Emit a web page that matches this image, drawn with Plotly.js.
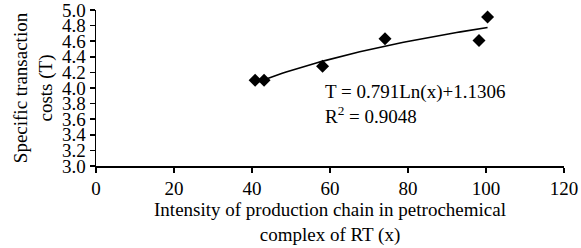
<!DOCTYPE html>
<html>
<head>
<meta charset="utf-8">
<script src="https://cdn.plot.ly/plotly-3.0.1.min.js"></script>
<style>html,body{margin:0;padding:0;background:#fff;}#chart{width:581px;height:248px;}</style>
</head>
<body>
<div id="chart"></div>
<script>
// Data
const intensityX = [40.8, 43.1, 58.1, 74.1, 98.2, 100.4];
const costsT = [4.10, 4.10, 4.28, 4.63, 4.61, 4.91];
// Logarithmic trendline coefficients (from the chart's equation)
const trendA = 0.791;
const trendB = 1.1306;
const xTicks = [0, 20, 40, 60, 80, 100, 120];
const yTicks = [3.0, 3.2, 3.4, 3.6, 3.8, 4.0, 4.2, 4.4, 4.6, 4.8, 5.0];

const xMin = Math.min(...intensityX), xMax = Math.max(...intensityX);
const trendX = [], trendY = [];
for (let i = 0; i <= 60; i++) {
  const x = xMin + (xMax - xMin) * i / 60;
  trendX.push(x);
  trendY.push(trendA * Math.log(x) + trendB);
}

const font = {family: '"Liberation Serif", "Times New Roman", serif', color: '#000', size: 19};

Plotly.newPlot('chart', [
  {x: trendX, y: trendY, mode: 'lines', line: {color: '#000', width: 1.6}, hoverinfo: 'skip'},
  {x: intensityX, y: costsT, mode: 'markers', marker: {symbol: 'diamond', size: 10, color: '#000'}}
], {
  width: 581, height: 248,
  margin: {l: 96, r: 17, t: 10, b: 82},
  showlegend: false,
  paper_bgcolor: '#fff', plot_bgcolor: '#fff',
  font: font,
  xaxis: {
    range: [0, 120], tickvals: xTicks, ticktext: xTicks.map(String),
    showgrid: false, zeroline: false, showline: true, linecolor: '#000', linewidth: 1.5,
    ticks: 'outside', ticklen: 5, tickwidth: 1.5, tickcolor: '#000',
    tickfont: font, ticklabeloverflow: 'allow',
    title: {text: 'Intensity of production chain in petrochemical<br>complex of RT (x)', font: font, standoff: 4}
  },
  yaxis: {
    range: [3.0, 5.0], tickvals: yTicks, ticktext: yTicks.map(v => v.toFixed(1)),
    showgrid: false, zeroline: false, showline: true, linecolor: '#000', linewidth: 1.5,
    ticks: 'outside', ticklen: 5, tickwidth: 1.5, tickcolor: '#000',
    tickfont: font, ticklabeloverflow: 'allow',
    title: {text: 'Specific transaction<br>costs (T)', font: font, standoff: 4}
  },
  annotations: [{
    x: 58.2, y: 3.80, xref: 'x', yref: 'y', xanchor: 'left', yanchor: 'middle', align: 'left',
    showarrow: false, text: 'T = 0.791Ln(x)+1.1306<br>R<sup>2</sup> = 0.9048',
    font: font
  }]
}, {displayModeBar: false, staticPlot: true});
</script>
</body>
</html>
